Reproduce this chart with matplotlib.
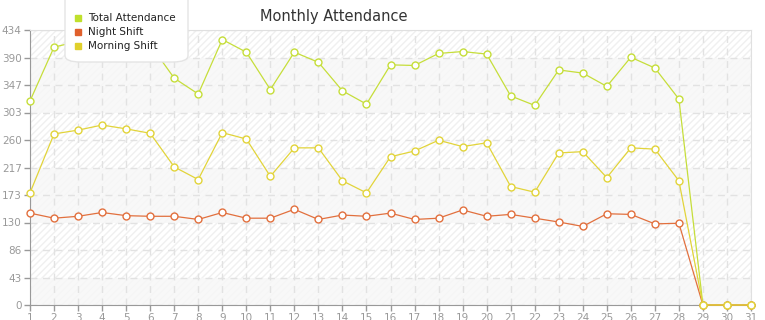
import matplotlib
matplotlib.use("Agg")
import matplotlib.pyplot as plt
from matplotlib.patches import Rectangle, FancyBboxPatch
from matplotlib.lines import Line2D
import numpy as np

# === Данные ===
days = list(range(1, 32))
total_attendance = [322, 407, 416, 430, 419, 411, 358, 333, 419, 399,
                    340, 399, 383, 338, 317, 379, 378, 397, 400, 396,
                    330, 315, 371, 366, 345, 391, 374, 325, 0, 0, 0]
night_shift = [145, 137, 140, 146, 141, 140, 140, 135, 146, 137,
               137, 151, 135, 142, 140, 145, 135, 137, 150, 140,
               143, 137, 131, 124, 144, 143, 128, 129, 0, 0, 0]
morning_shift = [177, 270, 276, 284, 278, 271, 218, 198, 272, 262,
                 203, 248, 248, 196, 177, 234, 243, 260, 250, 256,
                 187, 178, 240, 242, 201, 248, 246, 196, 0, 0, 0]
y_max = 434
y_tick_labels = ["0", "43", "86", "130", "173", "217", "260", "303", "347", "390", "434"]

series = [
    ("Total Attendance", total_attendance, "#c6de3a", "#bfe02c"),
    ("Night Shift", night_shift, "#e2703e", "#e0602c"),
    ("Morning Shift", morning_shift, "#e2d43a", "#e0d02c"),
]

fig = plt.figure(figsize=(7.65, 3.2), dpi=100)
ax = fig.add_axes([30 / 765, 15 / 320, 721 / 765, 275 / 320])

y_ticks = np.linspace(0, y_max, 11)

# фон: штриховка + полосы
ax.set_facecolor("white")
ax.add_patch(Rectangle((0, 0), 1, 1, transform=ax.transAxes, facecolor="none",
                       edgecolor="#f0f0f0", hatch="/////", linewidth=0, zorder=0))
for lo, hi in [(y_ticks[0], y_ticks[1]), (y_ticks[3], y_ticks[5]), (y_ticks[7], y_ticks[9])]:
    ax.axhspan(lo, hi, color="#f7f7f7", alpha=0.8, zorder=0.5, linewidth=0)

for label, vals, color, _ in series:
    ax.plot(days, vals, "-", color=color, linewidth=0.9, marker="o", markersize=5,
            markerfacecolor="white", markeredgecolor=color, markeredgewidth=1.0, zorder=3,
            clip_on=False)

ax.set_xlim(1, 31)
ax.set_ylim(0, y_max)
ax.set_xticks(days)
ax.set_xticklabels([str(d) for d in days])
ax.set_yticks(y_ticks)
ax.set_yticklabels(y_tick_labels)
ax.grid(True, color="#e2e2e2", linestyle=(0, (5, 4)), linewidth=1.0, zorder=1)
ax.set_axisbelow(True)

ax.tick_params(axis="both", colors="#999999", labelsize=7.5, length=4, width=1, pad=2,
               labelcolor="#999999")
ax.spines["left"].set_color("#999999")
ax.spines["bottom"].set_color("#999999")
ax.spines["top"].set_color("#e0e0e0")
ax.spines["right"].set_color("#e0e0e0")

fig.text(260 / 765, 1 - 17 / 320, "Monthly Attendance", fontsize=10.5, color="#333333",
         ha="left", va="center")

# легенда
box = FancyBboxPatch((65 / 765, 1 - 62 / 320), 123 / 765, 70 / 320,
                     boxstyle="round,pad=0,rounding_size=0.02", transform=fig.transFigure,
                     facecolor="white", edgecolor="#e4e4e4", linewidth=1, zorder=5)
fig.patches.append(box)
for i, (label, _, _, swatch) in enumerate(series):
    y = 1 - (18 + 14 * i) / 320
    fig.add_artist(Line2D([78 / 765], [y], marker="s", markersize=4.5, color=swatch,
                          linestyle="none", transform=fig.transFigure, zorder=6))
    fig.text(88 / 765, y, label, fontsize=7.5, color="#222222", ha="left", va="center",
             zorder=6)

fig.savefig("out.png", dpi=100)
